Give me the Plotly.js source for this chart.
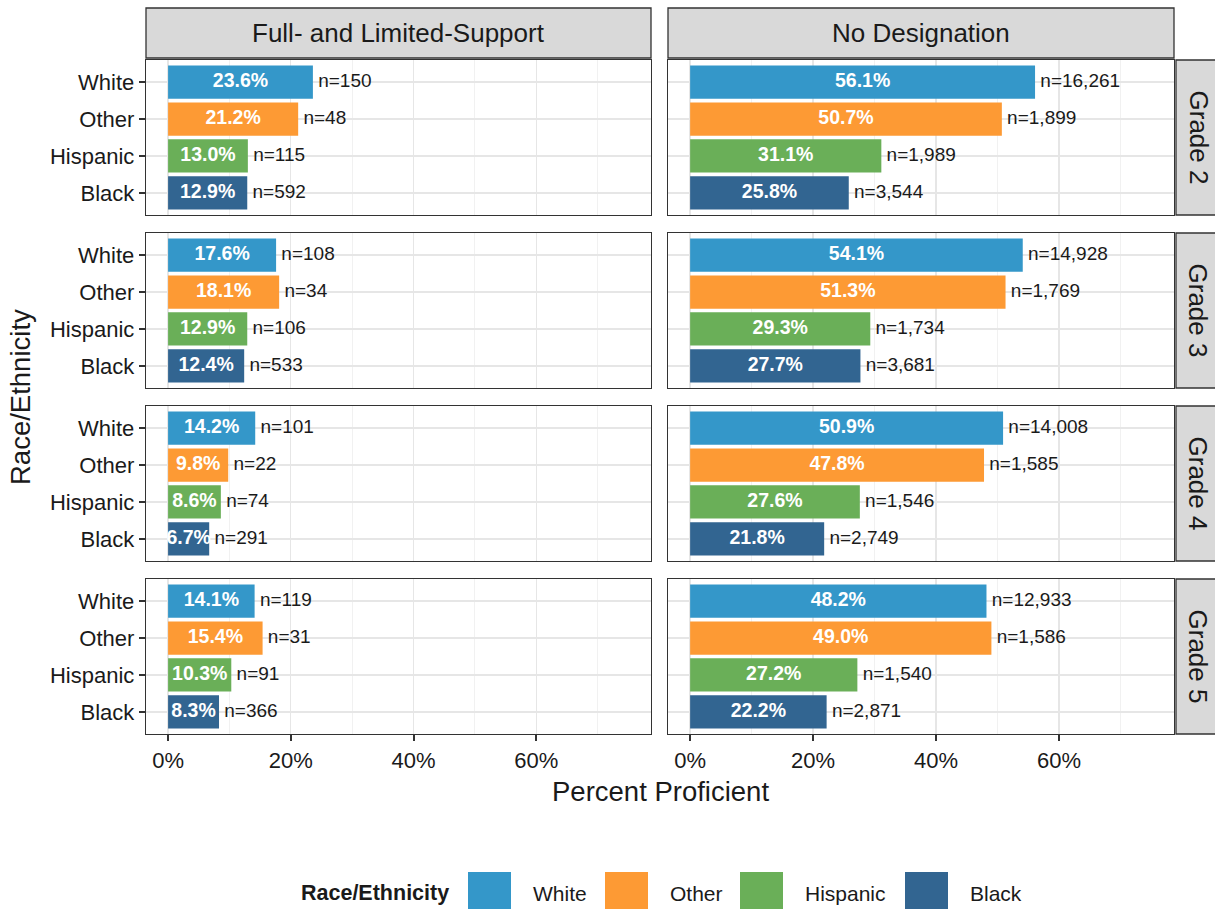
<!DOCTYPE html>
<html>
<head>
<meta charset="utf-8">
<script src="https://cdn.plot.ly/plotly-3.0.1.min.js"></script>
<style>html,body{margin:0;padding:0;background:#fff;}#chart{width:1215px;height:909px;}</style>
</head>
<body>
<div id="chart"></div>
<script>
// ---- data ----
const races = ["White", "Other", "Hispanic", "Black"];
const raceColors = ["#3497c9", "#fd9a34", "#6aaf58", "#326591"];
const designations = ["Full- and Limited-Support", "No Designation"];
const grades = ["Grade 2", "Grade 3", "Grade 4", "Grade 5"];

// percent proficient, order: White, Other, Hispanic, Black
const fullG2 = [23.6, 21.2, 13.0, 12.9];
const fullG3 = [17.6, 18.1, 12.9, 12.4];
const fullG4 = [14.2, 9.8, 8.6, 6.7];
const fullG5 = [14.1, 15.4, 10.3, 8.3];
const noneG2 = [56.1, 50.7, 31.1, 25.8];
const noneG3 = [54.1, 51.3, 29.3, 27.7];
const noneG4 = [50.9, 47.8, 27.6, 21.8];
const noneG5 = [48.2, 49.0, 27.2, 22.2];

// counts
const fullN2 = [150, 48, 115, 592];
const fullN3 = [108, 34, 106, 533];
const fullN4 = [101, 22, 74, 291];
const fullN5 = [119, 31, 91, 366];
const noneN2 = [16261, 1899, 1989, 3544];
const noneN3 = [14928, 1769, 1734, 3681];
const noneN4 = [14008, 1585, 1546, 2749];
const noneN5 = [12933, 1586, 1540, 2871];

const xTickVals = [0, 20, 40, 60];
const xTickText = ["0%", "20%", "40%", "60%"];

// ---- layout geometry ----
const W = 1215, H = 909;
const FONT = "Liberation Sans, Arial, sans-serif";
const colX = [[146, 651], [668, 1174]];
const rowTop0 = 60, rowH = 155, rowStep = 173;
const px = v => v / W;
const py = v => 1 - v / H;

const values = [[fullG2, fullG3, fullG4, fullG5], [noneG2, noneG3, noneG4, noneG5]];
const counts = [[fullN2, fullN3, fullN4, fullN5], [noneN2, noneN3, noneN4, noneN5]];

const traces = [];
const layout = {
  width: W, height: H,
  margin: {l: 0, r: 0, t: 0, b: 0},
  paper_bgcolor: "#ffffff",
  plot_bgcolor: "#ffffff",
  showlegend: false,
  font: {family: FONT, color: "#1a1a1a"},
  shapes: [],
  annotations: []
};

let idx = 0;
for (let r = 0; r < 4; r++) {
  for (let c = 0; c < 2; c++) {
    idx++;
    const xa = "x" + (idx === 1 ? "" : idx);
    const ya = "y" + (idx === 1 ? "" : idx);
    const xk = "xaxis" + (idx === 1 ? "" : idx);
    const yk = "yaxis" + (idx === 1 ? "" : idx);
    const vals = values[c][r];
    const ns = counts[c][r];

    traces.push({
      type: "bar", orientation: "h",
      x: vals, y: races,
      width: 0.9,
      marker: {color: raceColors, line: {width: 0}},
      xaxis: xa, yaxis: ya,
      hoverinfo: "x+y"
    });
    traces.push({
      type: "scatter", mode: "text",
      x: vals.map(v => v / 2), y: races,
      text: vals.map(v => v.toFixed(1) + "%"),
      textposition: "middle center",
      textfont: {family: FONT, size: 19.5, color: "#ffffff", weight: "bold"},
      cliponaxis: false,
      xaxis: xa, yaxis: ya, hoverinfo: "skip"
    });
    traces.push({
      type: "scatter", mode: "text",
      x: vals, y: races,
      text: ns.map(n => "\u00a0n=" + n.toLocaleString("en-US")),
      textposition: "middle right",
      textfont: {family: FONT, size: 19, color: "#1a1a1a"},
      cliponaxis: false,
      xaxis: xa, yaxis: ya, hoverinfo: "skip"
    });

    const top = rowTop0 + r * rowStep;
    const bottom = top + rowH;
    layout[xk] = {
      domain: [px(colX[c][0]), px(colX[c][1])],
      anchor: ya,
      range: [-3.6, 78.7],
      tickvals: xTickVals,
      ticktext: xTickText,
      showticklabels: r === 3,
      ticks: r === 3 ? "outside" : "",
      ticklen: 6, tickwidth: 2, tickcolor: "#333333",
      tickfont: {family: FONT, size: 22, color: "#1a1a1a"},
      showgrid: true, gridcolor: "#e6e6e6", gridwidth: 1.3,
      minor: {dtick: 10, tick0: 0, showgrid: true, gridcolor: "#f0f0f0", gridwidth: 0.9, ticks: ""},
      zeroline: false,
      showline: true, mirror: true, linecolor: "#333333", linewidth: 1.3,
      fixedrange: true
    };
    layout[yk] = {
      domain: [py(bottom), py(top)],
      anchor: xa,
      type: "category",
      categoryorder: "array",
      categoryarray: races.slice().reverse(),
      range: [-0.6, 3.6],
      showticklabels: c === 0,
      ticks: c === 0 ? "outside" : "",
      ticklen: 6, tickwidth: 2, tickcolor: "#333333",
      tickfont: {family: FONT, size: 22, color: "#1a1a1a"},
      showgrid: true, gridcolor: "#e6e6e6", gridwidth: 1.3,
      zeroline: false,
      showline: true, mirror: true, linecolor: "#333333", linewidth: 1.3,
      fixedrange: true
    };
  }
}

// column strips
for (let c = 0; c < 2; c++) {
  layout.shapes.push({
    type: "rect", xref: "paper", yref: "paper",
    x0: px(colX[c][0]), x1: px(colX[c][1]), y0: py(58), y1: py(8),
    fillcolor: "#d9d9d9", line: {color: "#333333", width: 1.3}, layer: "below"
  });
  layout.annotations.push({
    xref: "paper", yref: "paper",
    x: px((colX[c][0] + colX[c][1]) / 2), y: py(33),
    text: designations[c], showarrow: false,
    xanchor: "center", yanchor: "middle",
    font: {family: FONT, size: 26, color: "#1a1a1a"}
  });
}
// row strips
for (let r = 0; r < 4; r++) {
  const top = rowTop0 + r * rowStep;
  const bottom = top + rowH;
  layout.shapes.push({
    type: "rect", xref: "paper", yref: "paper",
    x0: px(1176), x1: px(1240), y0: py(bottom), y1: py(top),
    fillcolor: "#d9d9d9", line: {color: "#333333", width: 1.3}, layer: "below"
  });
  layout.annotations.push({
    xref: "paper", yref: "paper",
    x: px(1198), y: py((top + bottom) / 2),
    text: grades[r], showarrow: false, textangle: 90,
    xanchor: "center", yanchor: "middle",
    font: {family: FONT, size: 26, color: "#1a1a1a"}
  });
}

// axis titles
layout.annotations.push({
  xref: "paper", yref: "paper", x: px(660), y: py(791),
  text: "Percent Proficient", showarrow: false,
  xanchor: "center", yanchor: "middle",
  font: {family: FONT, size: 27.5, color: "#1a1a1a"}
});
layout.annotations.push({
  xref: "paper", yref: "paper", x: px(21), y: py(397),
  text: "Race/Ethnicity", showarrow: false, textangle: -90,
  xanchor: "center", yanchor: "middle",
  font: {family: FONT, size: 27.5, color: "#1a1a1a"}
});

// legend (manual, bottom)
layout.annotations.push({
  xref: "paper", yref: "paper", x: px(299), y: py(893),
  text: "<b>Race/Ethnicity</b>", showarrow: false,
  xanchor: "left", yanchor: "middle",
  font: {family: FONT, size: 21.5, color: "#1a1a1a"}
});
const keyX = [468, 605, 740, 905];
for (let i = 0; i < races.length; i++) {
  layout.shapes.push({
    type: "rect", xref: "paper", yref: "paper",
    x0: px(keyX[i]), x1: px(keyX[i] + 43), y0: py(915), y1: py(872),
    fillcolor: raceColors[i], line: {width: 0}
  });
  layout.annotations.push({
    xref: "paper", yref: "paper", x: px(keyX[i] + 63), y: py(893),
    text: races[i], showarrow: false,
    xanchor: "left", yanchor: "middle",
    font: {family: FONT, size: 21, color: "#1a1a1a"}
  });
}

Plotly.newPlot("chart", traces, layout, {displayModeBar: false, staticPlot: true});
</script>
</body>
</html>
